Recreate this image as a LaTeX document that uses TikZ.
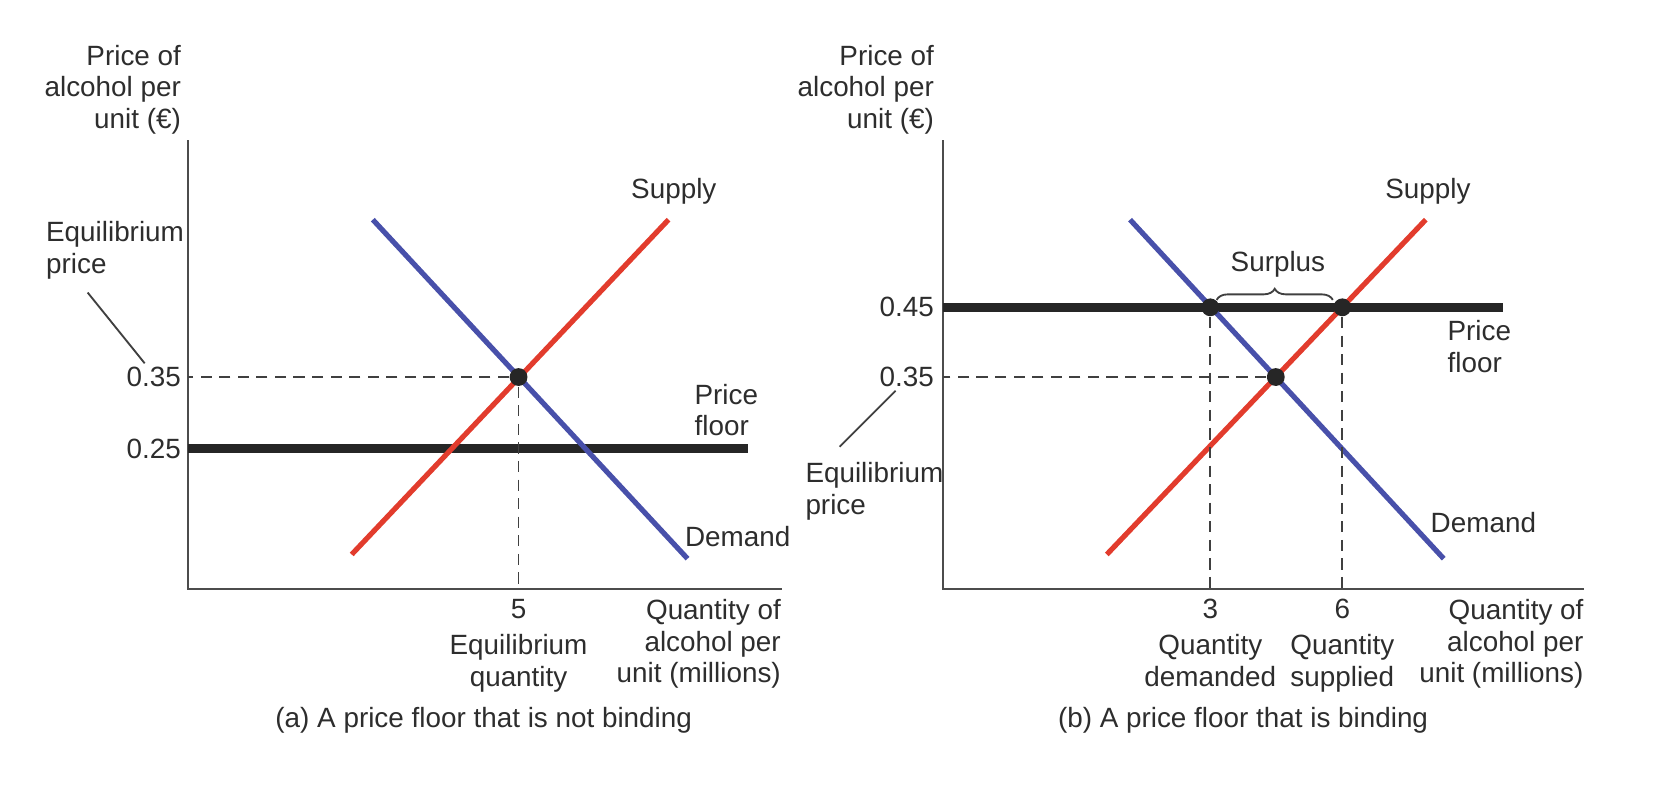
\documentclass[tikz,border=0pt]{standalone}
\usepackage{fontspec}
\setmainfont{Liberation Sans}
\usetikzlibrary{decorations.pathreplacing}
\definecolor{supplyred}{RGB}{226,60,45}
\definecolor{demandblue}{RGB}{72,80,170}
\definecolor{labelgray}{RGB}{45,45,45}
\begin{document}
\begin{tikzpicture}[x=0.01cm,y=-0.01cm,
    axis/.style={draw=black!70,line width=0.6pt},
    supplyline/.style={draw=supplyred,line width=1.4pt},
    demandline/.style={draw=demandblue,line width=1.4pt},
    floorline/.style={draw=black!85,line width=2.5pt},
    guide/.style={draw=black!75,line width=0.45pt,dash pattern=on 3pt off 2pt},
    leader/.style={draw=black!75,line width=0.5pt}]
    \useasboundingbox (0,0) rectangle (1568,746);

    % (a) price floor not binding
    \begin{scope}
        \coordinate (atop) at (178,133);
        \coordinate (ao) at (178,558);
        \coordinate (aend) at (740,558);
        \coordinate (aS1) at (333,525);
        \coordinate (aS2) at (633,208);
        \coordinate (aD1) at (353,208);
        \coordinate (aD2) at (651,529);
        \coordinate (aF1) at (178,425);
        \coordinate (aF2) at (708,425);
        \coordinate (aL1) at (83,277);
        \coordinate (aL2) at (137,344);
        \path [axis] (atop) -- (ao) -- (aend);
        \path [floorline] (aF1) -- (aF2);
        \path [supplyline] (aS1) -- (aS2);
        \path [demandline] (aD1) -- (aD2);
        \path [leader] (aL1) -- (aL2);
    \end{scope}

    % (b) price floor binding
    \begin{scope}
        \coordinate (btop) at (893,133);
        \coordinate (bo) at (893,558);
        \coordinate (bend) at (1500,558);
        \coordinate (bS1) at (1048,525);
        \coordinate (bS2) at (1350,208);
        \coordinate (bD1) at (1070,208);
        \coordinate (bD2) at (1367,529);
        \coordinate (bF1) at (893,291);
        \coordinate (bF2) at (1423,291);
        \coordinate (bL1) at (848,370);
        \coordinate (bL2) at (795,423);
        \coordinate (bB1) at (1152,284);
        \coordinate (bB2) at (1262,284);
        \path [axis] (btop) -- (bo) -- (bend);
        \path [floorline] (bF1) -- (bF2);
        \path [supplyline] (bS1) -- (bS2);
        \path [demandline] (bD1) -- (bD2);
        \path [leader] (bL1) -- (bL2);
        \path [leader,decorate,decoration={brace,amplitude=3pt}] (bB1) -- (bB2);
    \end{scope}

    \begin{scope}[every node/.style={circle,fill=black!85,minimum size=4.8pt,inner sep=0pt}]
        \node (aeq) at (491,357) {};
        \node (beq) at (1208,357) {};
        \node (bqd) at (1146,291) {};
        \node (bqs) at (1271,291) {};
    \end{scope}

    \begin{scope}
        \path [guide] (aeq) -- (aeq -| ao);
        \path [guide] (aeq) -- (aeq |- ao);
        \path [guide] (beq) -- (beq -| bo);
        \path [guide] (bqd) -- (bqd |- bo);
        \path [guide] (bqs) -- (bqs |- bo);
    \end{scope}

    \begin{scope}[every node/.style={font=\fontsize{7.5}{8.5}\selectfont,text=labelgray,inner sep=0pt}]
        \node [anchor=north east,align=right] (aplab) at (172,42) {Price of\\alcohol per\\unit (€)};
        \node [anchor=north west,align=left] (aeqp) at (43,209) {Equilibrium\\price};
        \node [anchor=east] (a35) at (172,357) {0.35};
        \node [anchor=east] (a25) at (172,425) {0.25};
        \node (aslab) at (638,181) {Supply};
        \node [anchor=north west,align=left] (aflab) at (657,363) {Price\\floor};
        \node [anchor=west] (adlab) at (648,508) {Demand};
        \node (a5) at (491,577) {5};
        \node [anchor=north,align=center] (aeqq) at (491,600) {Equilibrium\\quantity};
        \node [anchor=north east,align=right] (aqlab) at (740,567) {Quantity of\\alcohol per\\unit (millions)};
        \node (acap) at (458,682) {(a) A price floor that is not binding};

        \node [anchor=north east,align=right] (bplab) at (885,42) {Price of\\alcohol per\\unit (€)};
        \node [anchor=north west,align=left] (beqp) at (762,437) {Equilibrium\\price};
        \node [anchor=east] (b45) at (885,291) {0.45};
        \node [anchor=east] (b35) at (885,357) {0.35};
        \node (bslab) at (1352,181) {Supply};
        \node (bsur) at (1210,250) {Surplus};
        \node [anchor=north west,align=left] (bflab) at (1370,303) {Price\\floor};
        \node [anchor=west] (bdlab) at (1354,495) {Demand};
        \node (b3) at (1146,577) {3};
        \node (b6) at (1271,577) {6};
        \node [anchor=north,align=center] (bqdlab) at (1146,600) {Quantity\\demanded};
        \node [anchor=north,align=center] (bqslab) at (1271,600) {Quantity\\supplied};
        \node [anchor=north east,align=right] (bqlab) at (1500,567) {Quantity of\\alcohol per\\unit (millions)};
        \node (bcap) at (1177,682) {(b) A price floor that is binding};
    \end{scope}
\end{tikzpicture}
\end{document}
